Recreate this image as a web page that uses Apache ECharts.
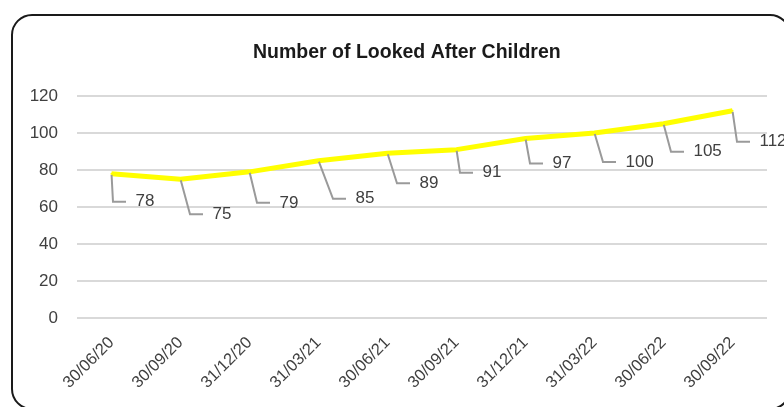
<!DOCTYPE html>
<html><head><meta charset="utf-8">
<script src="https://cdn.jsdelivr.net/npm/echarts@6/dist/echarts.min.js"></script>
<style>html,body{margin:0;padding:0;background:#fff}#c{width:784px;height:407px}</style>
</head><body><div id="c"></div>
<script>
const titleText = 'Number of Looked After Children';
const categories = ['30/06/20','30/09/20','31/12/20','31/03/21','30/06/21','30/09/21','31/12/21','31/03/22','30/06/22','30/09/22'];
const values = [78, 75, 79, 85, 89, 91, 97, 100, 105, 112];
const yTicks = [0, 20, 40, 60, 80, 100, 120];

// label placement style (pixel offsets of each data label from its point)
const labelOffsetX = [24, 32, 30, 37, 32, 26, 27, 31, 30, 27];
const labelOffsetY = [28, 35, 31, 38, 30, 23, 25, 29, 28, 31];

const chart = echarts.init(document.getElementById('c'), null, {renderer: 'canvas'});
chart.setOption({
  backgroundColor: '#fff',
  animation: false,
  title: {
    text: titleText, left: 248, top: 38,
    textStyle: {fontFamily: 'Liberation Sans', fontWeight: 'bold', fontSize: 19.5, color: '#1a1a1a'}
  },
  graphic: [{
    type: 'rect', shape: {x: 12, y: 15, width: 778, height: 394, r: 20},
    style: {fill: 'none', stroke: '#1a1a1a', lineWidth: 2}, z: 100, silent: true
  }],
  grid: {left: 77, right: 17, top: 96, bottom: 89},
  xAxis: {
    type: 'category', data: categories, boundaryGap: true,
    axisLine: {show: false}, axisTick: {show: false},
    axisLabel: {rotate: 45, margin: 22, fontFamily: 'Liberation Sans', fontSize: 16.5, color: '#404040', interval: 0}
  },
  yAxis: {
    type: 'value', min: yTicks[0], max: yTicks[yTicks.length - 1], interval: 20,
    axisLine: {show: false}, axisTick: {show: false},
    axisLabel: {margin: 19, fontFamily: 'Liberation Sans', fontSize: 17, color: '#404040'},
    splitLine: {lineStyle: {color: '#d9d9d9', width: 2}}
  },
  series: [{
    type: 'line', data: values,
    lineStyle: {color: '#ffff00', width: 5},
    itemStyle: {color: '#ffff00'},
    symbol: 'circle', symbolSize: 2, showSymbol: true,
    label: {show: true, position: 'right', distance: 5,
            formatter: '\u00a0\u00a0{c}',
            fontFamily: 'Liberation Sans', fontSize: 17, color: '#404040'},
    labelLayout: function (p) {
      return {dx: labelOffsetX[p.dataIndex] - 15.5, dy: labelOffsetY[p.dataIndex]};
    },
    labelLine: {show: true, length2: 13, lineStyle: {color: '#9a9a9a', width: 2}}
  }]
});
</script></body></html>
